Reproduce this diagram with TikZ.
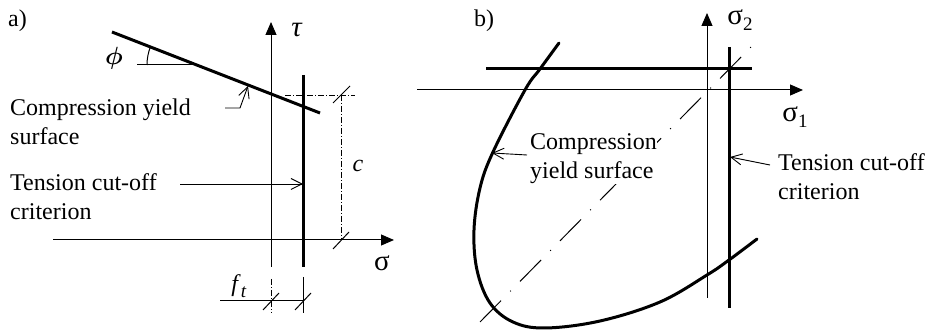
\documentclass[tikz,border=0pt]{standalone}
\usepackage{amsmath}
\usepackage{fontspec}
\setmainfont{Liberation Serif}
\usetikzlibrary{arrows.meta,calc}
\newcommand{\subsc}[1]{\raisebox{-6pt}{\fontsize{19}{19}\selectfont #1}}
\begin{document}
\begin{tikzpicture}[x=1pt,y=-1pt,
  thinline/.style={line width=1pt},
  thickline/.style={line width=3pt},
  axis/.style={line width=1pt,-{Triangle[length=13pt,width=11pt]}},
  leader/.style={line width=0.9pt,-{Straight Barb[length=11pt,width=11pt,line width=0.9pt]}},
  dim/.style={line width=0.8pt,dash pattern=on 6pt off 2pt on 1pt off 2pt},
  tickmark/.style={line width=1pt},
  lbl/.style={font=\fontsize{24}{29}\selectfont, inner sep=0pt, align=left},
  mlbl/.style={font=\fontsize{29}{29}\selectfont, inner sep=0pt},
]
\useasboundingbox (0,0) rectangle (938,331);

% ---------- panel a ----------
\node[lbl, anchor=base west] (la) at (8,27) {a)};
\coordinate (tauB) at (271,267); \coordinate (tauT) at (271,22);
\draw[axis] (tauB) -- (tauT);
\node[mlbl] (tau) at (297,30) {\textit{τ}};
\coordinate (sigL) at (53,240); \coordinate (sigR) at (394,240);
\draw[axis] (sigL) -- (sigR);
\node[mlbl] (sig) at (382,263) {σ};
\coordinate (tcT) at (303,75); \coordinate (tcB) at (303,267);
\draw[thickline] (tcT) -- (tcB);
\coordinate (cyA) at (112,32); \coordinate (cyB) at (320,113);
\draw[thickline] (cyA) -- (cyB);
% phi
\coordinate (phiO) at (197,65); \coordinate (phiL) at (137,65);
\draw[thinline] (phiL) -- (phiO);
\draw[thinline] ($(phiO)+(180:50)$) arc[start angle=180, end angle=201.3, radius=50];
\node[inner sep=0pt, font=\fontsize{34}{34}\selectfont] (phi) at (114,58) {$\boldsymbol{\phi}$};
% compression leader
\node[lbl, anchor=west] (cyT) at (10,122) {Compression yield\\surface};
\coordinate (cyL1) at (225,108); \coordinate (cyL2) at (240,108); \coordinate (cyL3) at (248,86);
\draw[leader] (cyL1) -- (cyL2) -- (cyL3);
% tension leader
\node[lbl, anchor=west] (tcT2) at (10,197) {Tension cut-off\\criterion};
\coordinate (tcL1) at (180,184); \coordinate (tcL2) at (303,184);
\draw[leader] (tcL1) -- (tcL2);
% c dimension
\coordinate (c1) at (285,95); \coordinate (c2) at (355,95);
\coordinate (c3) at (341,95); \coordinate (c4) at (341,240);
\draw[dim] (c1) -- (c2);
\draw[dim] (c3) -- (c4);
\draw[tickmark] ($(c3)+(-8,8)$) -- ($(c3)+(9,-9)$);
\draw[tickmark] ($(c4)+(-8,9)$) -- ($(c4)+(8,-8)$);
\node[lbl] (c) at (358,166) {\textit{c}};
% f_t dimension
\coordinate (f1) at (220,301); \coordinate (f2) at (271,301); \coordinate (f3) at (303,301);
\draw[thinline] (f1) -- (f3);
\draw[dim] (271,279) -- (271,313);
\draw[thinline] (303,277) -- (303,313);
\draw[tickmark] ($(f2)+(-8,9)$) -- ($(f2)+(8,-8)$);
\draw[tickmark] ($(f3)+(-8,9)$) -- ($(f3)+(8,-8)$);
\node[lbl] (ft) at (239,286) {\textit{f}\subsc{\textit{t}}};

% ---------- panel b ----------
\node[lbl, anchor=base west] (lb) at (474,27) {b)};
\coordinate (s2B) at (707,298); \coordinate (s2T) at (707,13);
\draw[axis] (s2B) -- (s2T);
\node[mlbl] (s2) at (740,20) {σ\subsc{2}};
\coordinate (s1L) at (417,90); \coordinate (s1R) at (803,90);
\draw[axis] (s1L) -- (s1R);
\node[mlbl] (s1) at (795,117) {σ\subsc{1}};
\coordinate (hL) at (486,69); \coordinate (hR) at (752,69);
\draw[thickline] (hL) -- (hR);
\coordinate (vT) at (729,47); \coordinate (vB) at (729,308);
\draw[thickline] (vT) -- (vB);
\coordinate (dA) at (480,322); \coordinate (dB) at (752,46);
\draw[line width=1pt, dash pattern=on 30pt off 13pt on 1pt off 13pt] (dA) -- (dB);
\draw[thickline, line cap=round] plot[smooth, tension=0.6] coordinates {
  (559,43) (540,69) (525,90) (493,152) (480,188) (474,230) (477,270)
  (490,303) (513,322) (545,328) (600,321) (660,302) (707,275) (729,260) (757,239)};
\node[lbl, anchor=west, fill=white] (cyb) at (530,159) {Compression\\yield surface};
\coordinate (cbL1) at (527,155); \coordinate (cbL2) at (492,153);
\draw[leader] (cbL1) -- (cbL2);
\node[lbl, anchor=west] (tcb) at (778,177) {Tension cut-off\\criterion};
\coordinate (tbL1) at (770,165); \coordinate (tbL2) at (730,157);
\draw[leader] (tbL1) -- (tbL2);
\end{tikzpicture}
\end{document}
